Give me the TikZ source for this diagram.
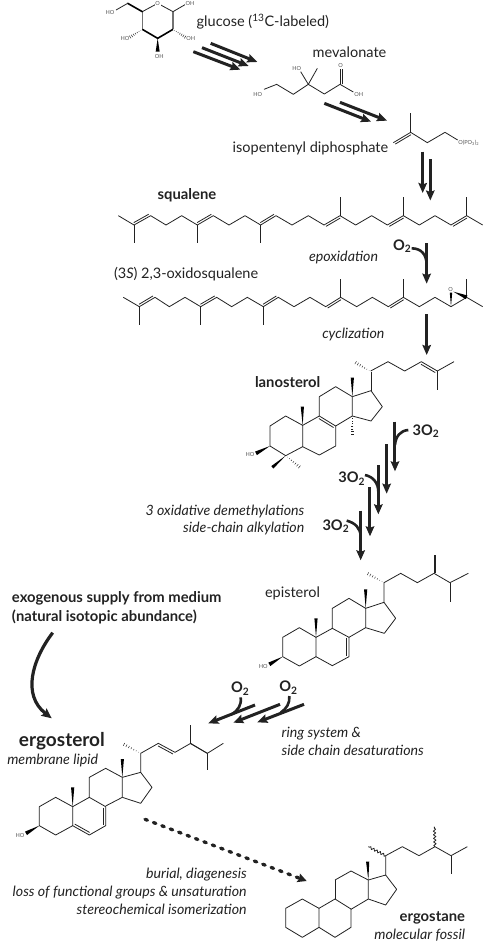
\documentclass[tikz,border=0pt]{standalone}
\usepackage{fontspec}
\setmainfont{Lato}
\usetikzlibrary{calc,arrows.meta,decorations.pathmorphing}
\definecolor{ink}{HTML}{222222}
\definecolor{smallink}{HTML}{555555}
\tikzset{
  zs/.style 2 args={shift={(#1,#2)},x=0.33333pt,y=-0.33333pt},
  bond/.style={line width=0.8pt,color=ink,line join=round},
  greybond/.style={line width=1.3pt,color=black!55},
  heavybond/.style={line width=1.6pt,color=black,line join=round},
  fat/.style={line width=3pt,color=ink,-{Stealth[length=10pt,width=8.5pt,inset=1.5pt]}},
  branch/.style={line width=2.6pt,color=ink},
  dotarrow/.style={line width=3.3pt,color=ink,line cap=round,dash pattern=on 2.6pt off 6.4pt,-{Stealth[length=9pt,width=9pt,inset=1.5pt]}},
  wig/.style={bond,decorate,decoration={snake,amplitude=1.2pt,segment length=3.6pt}},
  lab/.style={inner sep=0pt,outer sep=0pt,text=ink,anchor=base west,font=\fontsize{14.5}{16}\selectfont},
  labr/.style={lab,anchor=base east},
  labit/.style={lab,font=\fontsize{14.2}{16}\selectfont\itshape},
  labitr/.style={labit,anchor=base east},
  labb/.style={lab,font=\fontsize{14.8}{16}\selectfont\bfseries},
  oxy/.style={lab,font=\fontsize{14.6}{16}\selectfont\bfseries},
  tiny/.style={inner sep=0pt,outer sep=0pt,text=smallink,font=\fontsize{5.6}{6}\selectfont}
}
\newcommand{\dbl}[3]{\draw[bond,shorten >=1pt,shorten <=1pt] ($(#1)!#3!90:(#2)$) -- ($(#2)!#3!-90:(#1)$);}
\newcommand{\wdg}[3][1.6pt]{\fill[black] (#2) -- ($(#3)!#1!90:(#2)$) -- ($(#3)!#1!-90:(#2)$) -- cycle;}
\newcommand{\hsh}[2]{\foreach \t in {0.12,0.26,0.40,0.54,0.68,0.82,0.96}{%
  \pgfmathsetmacro{\w}{\t*1.7}
  \draw[line width=0.45pt,ink] ($(#1)!\t!(#2)!\w pt!90:(#2)$) -- ($(#1)!\t!(#2)!\w pt!-90:(#2)$);}}
\begin{document}
\begin{tikzpicture}[x=1pt,y=-1pt]
\useasboundingbox (0,0) rectangle (484,946);

% ---------- text labels
\node[lab] (glucose) at (196.7,26.7) {glucose (\textsuperscript{13}C-labeled)};
\node[lab] (mevalonate) at (312.7,57.3) {mevalonate};
\node[lab] (ipp) at (232.7,152.7) {isopentenyl diphosphate};
\node[labb] (squalene) at (157.7,199.3) {squalene};
\node[lab] (oxido) at (114,278.3) {(3\textit{S}) 2,3-oxidosqualene};
\node[labit] (epox) at (309,261.7) {epoxidation};
\node[labit] (cycl) at (322.3,338.3) {cyclization};
\node[labb] (lano) at (255,387.3) {lanosterol};
\node[labitr] (demeth) at (304.3,515) {3 oxidative demethylations};
\node[labitr] (alkyl) at (304.3,532.7) {side-chain alkylation};
\node[lab] (epi) at (265,597.7) {episterol};
\node[labb] (exo1) at (12,602.7) {exogenous supply from medium};
\node[labb] (exo2) at (12,621) {(natural isotopic abundance)};
\node[labb,font=\fontsize{19}{21}\selectfont\bfseries] (ergo) at (19,746) {ergosterol};
\node[labit] (memb) at (7.3,764) {membrane lipid};
\node[labit] (ring1) at (281.7,737.3) {ring system \&};
\node[labit] (ring2) at (281.7,755) {side chain desaturations};
\node[labitr] (bur1) at (246.7,878.3) {burial, diagenesis};
\node[labitr] (bur2) at (246.7,896.7) {loss of functional groups \& unsaturation};
\node[labitr] (bur3) at (246.7,914.3) {stereochemical isomerization};
\node[labb,anchor=base east] (ergn) at (465,921.7) {ergostane};
\node[labitr] (foss) at (465,939.3) {molecular fossil};
\node[oxy] (ox1) at (393,250) {O\textsubscript{2}};
\node[oxy] (ox2) at (412.7,435) {3O\textsubscript{2}};
\node[oxy] (ox3) at (338.3,482.7) {3O\textsubscript{2}};
\node[oxy] (ox4) at (322.5,530) {3O\textsubscript{2}};
\node[oxy] (ox5) at (231,692.7) {O\textsubscript{2}};
\node[oxy] (ox6) at (279.3,691.7) {O\textsubscript{2}};

% ---------- glucose
\begin{scope}[zs={90}{0}]
\draw[bond] (157,35) -- (203,10) -- (249,35);
\draw[greybond] (157,35) -- (157,88);
\draw[greybond] (249,35) -- (249,88);
\draw[heavybond] (157,88) -- (203,115) -- (249,88);
\draw[heavybond,line cap=round] (157,35) -- (113,10);
\draw[bond] (113,10) -- (78,30);
\draw[bond] (249,35) -- (285,14);
\hsh{249,88}{287,112}
\hsh{157,88}{119,112}
\wdg[2pt]{203,115}{203,155}
\node[tiny] (g1) at (60,36) {HO};
\node[tiny] (g2) at (300,10) {OH};
\node[tiny] (g3) at (302,116) {OH};
\node[tiny] (g4) at (208,168) {OH};
\node[tiny] (g5) at (105,116) {HO};
\node[tiny] (g6) at (203,10) [fill=white,inner sep=0.6pt] {O};
\draw[fat] (362,130) -- (502,186);
\draw[fat] (336,143) -- (476,198);
\draw[fat] (310,155) -- (451,209);
% mevalonate
\draw[bond] (522,268) -- (560,253) -- (610,283) -- (655,253) -- (703,282) -- (750,253) -- (790,276);
\draw[bond] (750,253) -- (750,208);
\draw[bond] (756,253) -- (756,208);
\draw[bond] (655,253) -- (682,205);
\draw[bond] (655,253) -- (632,215);
\node[tiny] (m1) at (503,283) {HO};
\node[tiny] (m2) at (620,205) {HO};
\node[tiny] (m3) at (752,197) {O};
\node[tiny] (m4) at (806,283) {OH};
\draw[fat] (750,307) -- (891,362);
\draw[fat] (703,310) -- (843,365);
% IPP
\draw[bond] (910,428) -- (962,397) -- (1012,428) -- (1065,397) -- (1103,420);
\draw[bond] (962,397) -- (962,340);
\dbl{910,428}{962,397}{-2.2pt}
\node[tiny,anchor=west,font=\fontsize{5.6}{6}\selectfont] (po) at (1105,428) {O(PO\textsubscript{3})\textsubscript{2}};
\end{scope}

\draw[fat] (422.7,151.7) -- (422.7,193);
\draw[fat] (430.3,159) -- (430.3,200.5);

% ---------- squalene and oxidosqualene
\begin{scope}[zs={110}{180}]
\draw[bond] (25,107) -- (72,135) -- (122,107) -- (168,135) -- (215,107) -- (262,135) -- (310,107) -- (357,135) -- (405,107) -- (452,135) -- (498,107) -- (546,135) -- (595,107) -- (642,135) -- (690,107) -- (737,135) -- (785,107) -- (832,135) -- (880,107) -- (928,135) -- (975,107) -- (1023,135) -- (1070,107) -- (1118,135);
\draw[bond] (72,135) -- (72,190);
\draw[bond] (262,135) -- (262,190);
\draw[bond] (452,135) -- (452,190);
\draw[bond] (690,107) -- (690,52);
\draw[bond] (880,107) -- (880,52);
\draw[bond] (1070,107) -- (1070,52);
\dbl{72,135}{122,107}{2.2pt}
\dbl{262,135}{310,107}{2.2pt}
\dbl{452,135}{498,107}{2.2pt}
\dbl{642,135}{690,107}{-2.2pt}
\dbl{832,135}{880,107}{-2.2pt}
\dbl{1023,135}{1070,107}{-2.2pt}
% oxido
\draw[bond] (40,352) -- (88,380) -- (135,352) -- (178,380) -- (225,352) -- (272,380) -- (320,352) -- (365,380) -- (412,352) -- (460,380) -- (505,352) -- (552,380) -- (600,352) -- (647,380) -- (692,352) -- (740,380) -- (787,352) -- (835,380) -- (880,352) -- (928,380) -- (975,352) -- (1023,380) -- (1070,352) -- (1118,380);
\draw[bond] (88,380) -- (88,435);
\draw[bond] (272,380) -- (272,435);
\draw[bond] (460,380) -- (460,435);
\draw[bond] (692,352) -- (692,297);
\draw[bond] (880,352) -- (880,297);
\draw[bond] (1070,352) -- (1070,297);
\dbl{88,380}{135,352}{2.2pt}
\dbl{272,380}{320,352}{2.2pt}
\dbl{460,380}{505,352}{2.2pt}
\dbl{647,380}{692,352}{-2.2pt}
\dbl{835,380}{880,352}{-2.2pt}
\wdg[1.2pt]{1023,380}{1023,338}
\wdg[2pt]{1030,335}{1070,352}
\node[tiny] (eo) at (1022,328) {O};
% arrows
\draw[branch] (905,205) .. controls (935,205) and (950,225) .. (950,255);
\draw[fat] (950,190) -- (950,311);
\end{scope}
\draw[fat] (426.7,314) -- (426.7,355);

% ---------- lanosterol
\begin{scope}[zs={220}{350}]
\draw[bond] (248,226) -- (197,198) -- (150,228) -- (150,288) -- (197,317) -- (248,290) -- cycle;
\draw[bond] (248,290) -- (298,315) -- (347,288) -- (347,228) -- (298,198) -- (248,226);
\draw[bond] (298,198) -- (298,140) -- (347,110) -- (397,140) -- (397,198) -- (347,228);
\draw[bond] (397,140) -- (453,122) -- (487,170) -- (453,213) -- (397,198);
\dbl{298,198}{347,228}{-2.4pt}
\wdg{248,226}{247,170}
\wdg{397,140}{397,83}
\hsh{397,198}{397,255}
\wdg{197,317}{157,352}
\hsh{197,317}{240,352}
\wdg[2pt]{150,288}{108,310}
\node[tiny] (l1) at (90,313) {HO};
\draw[bond] (453,122) -- (453,65);
\hsh{453,65}{405,37}
\end{scope}
\begin{scope}[zs={364}{345}]
\draw[bond] (20,78) -- (72,50) -- (122,78) -- (172,50) -- (220,78) -- (270,50);
\draw[bond] (220,78) -- (220,135);
\dbl{172,50}{220,78}{-2.4pt}
\end{scope}

% ---------- 3 O2 arrows
\begin{scope}[zs={130}{410}]
\draw[branch] (835,60) .. controls (810,62) and (797,80) .. (795,105);
\draw[branch] (705,195) .. controls (730,200) and (745,220) .. (745,245);
\draw[branch] (650,332) .. controls (675,338) and (692,355) .. (692,380);
\draw[fat] (795,35) -- (795,184);
\draw[fat] (770,103) -- (770,251);
\draw[fat] (745,165) -- (745,313);
\draw[fat] (720,232) -- (720,379);
\draw[fat] (692,302) -- (692,451);
\end{scope}

% ---------- episterol
\begin{scope}[zs={250}{550}]
\draw[bond] (198,262) -- (148,233) -- (98,262) -- (98,320) -- (148,348) -- (198,320) -- cycle;
\draw[bond] (198,320) -- (247,347) -- (297,320) -- (297,262) -- (247,235) -- (198,262);
\draw[bond] (247,235) -- (247,175) -- (297,145) -- (347,175) -- (347,233) -- (297,262);
\draw[bond] (347,175) -- (402,157) -- (437,205) -- (403,250) -- (347,233);
\dbl{297,262}{297,320}{-2.4pt}
\wdg{198,262}{198,205}
\wdg{347,175}{347,118}
\wdg[2pt]{98,320}{58,343}
\node[tiny] (e1) at (40,348) {HO};
\draw[bond] (402,157) -- (402,98) -- (452,70) -- (502,98) -- (552,70) -- (600,98) -- (655,70);
\draw[bond] (600,98) -- (600,155);
\draw[bond] (552,70) -- (552,15);
\draw[bond] (557,70) -- (557,15);
\hsh{402,98}{352,70}
\end{scope}

% ---------- exogenous arrow
\draw[line width=3.2pt,ink,-{Stealth[length=10pt,width=9pt,inset=1.5pt]}] (52.7,632.7) .. controls (32,660) and (22,695) .. (51.7,718.3);

% ---------- desaturation arrows
\begin{scope}[zs={150}{660}]
\draw[branch] (272,112) .. controls (275,135) and (265,150) .. (245,163);
\draw[branch] (418,108) .. controls (420,130) and (410,145) .. (392,158);
\draw[fat] (315,135) -- (175,190);
\draw[fat] (390,133) -- (250,188);
\draw[fat] (462,133) -- (322,187);
\end{scope}

% ---------- ergosterol
\begin{scope}[zs={0}{780}]
\draw[bond] (218,80) -- (167,52) -- (118,80) -- (118,137) -- (167,165) -- (218,137) -- cycle;
\draw[bond] (218,137) -- (268,165) -- (317,137) -- (317,80) -- (268,52) -- (218,80);
\dbl{218,137}{268,165}{2.4pt}
\dbl{317,80}{317,137}{-2.4pt}
\wdg[2pt]{118,137}{78,160}
\node[tiny] (h1) at (60,167) {HO};
\wdg{218,80}{218,22}
\end{scope}
\begin{scope}[zs={0}{670}]
\draw[bond] (268,382) -- (268,322) -- (317,295) -- (367,322) -- (367,382) -- (317,408);
\draw[bond] (367,322) -- (422,307) -- (456,352) -- (422,400) -- (367,382);
\wdg{367,322}{367,267}
\draw[bond] (422,307) -- (422,250) -- (475,220) -- (525,247) -- (572,220) -- (622,250);
\dbl{475,220}{525,247}{-2.4pt}
\draw[bond] (572,220) -- (572,165);
\hsh{422,250}{370,222}
\end{scope}
\begin{scope}[zs={150}{660}]
\draw[bond] (172,280) -- (220,250);
\draw[bond] (172,280) -- (172,330);
\draw[bond] (120,250) -- (172,280);
\end{scope}

% ---------- dotted arrow
\draw[dotarrow] (145,819.3) -- (306.7,881);

% ---------- ergostane
\begin{scope}[zs={80}{800}]
\draw[bond] (717,325) -- (667,297) -- (617,325) -- (617,382) -- (667,412) -- (717,382) -- cycle;
\draw[bond] (717,382) -- (765,412) -- (813,382) -- (813,327) -- (765,297) -- (717,325);
\draw[bond] (765,297) -- (765,240);
\end{scope}
\begin{scope}[zs={340}{800}]
\draw[bond] (-15,240) -- (33,213) -- (85,240) -- (85,297) -- (33,328);
\draw[bond] (85,240) -- (137,225) -- (170,268) -- (137,315) -- (85,297);
\wdg{85,240}{83,185}
\draw[bond] (137,225) -- (137,167) -- (187,140) -- (237,167) -- (285,140) -- (333,167) -- (382,140);
\draw[bond] (333,167) -- (333,222);
\draw[wig] (137,167) -- (85,140);
\draw[wig] (285,140) -- (283,80);
\end{scope}
\end{tikzpicture}
\end{document}
